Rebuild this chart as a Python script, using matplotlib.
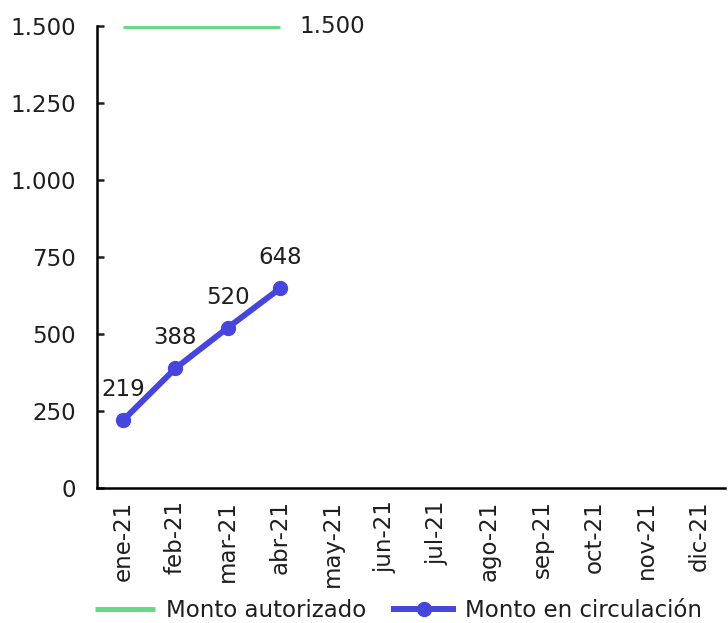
import matplotlib
matplotlib.use("Agg")
import matplotlib.pyplot as plt
from matplotlib.ticker import FuncFormatter

plt.rcParams.update({
    "font.family": "DejaVu Sans",
    "font.size": 16.5,
})

meses = ["ene-21", "feb-21", "mar-21", "abr-21", "may-21", "jun-21",
         "jul-21", "ago-21", "sep-21", "oct-21", "nov-21", "dic-21"]
autorizado = [1500, 1500, 1500, 1500]
circulacion = [219, 388, 520, 648]

VERDE = "#66DA84"
AZUL = "#4646DC"
TEXTO = "#1E1E1E"


def miles(v, pos=None):
    return f"{v:,.0f}".replace(",", ".")


fig = plt.figure(figsize=(7.28, 6.23), dpi=100)
ax = fig.add_axes([0.133, 0.217, 0.863, 0.741])

x_aut = list(range(len(autorizado)))
x_circ = list(range(len(circulacion)))

ax.plot(x_aut, autorizado, color=VERDE, lw=3.6, label="Monto autorizado",
        solid_capstyle="butt")
ax.plot(x_circ, circulacion, color=AZUL, lw=4.3, marker="o", ms=10,
        label="Monto en circulación")

ax.annotate(miles(autorizado[-1]), (x_aut[-1], autorizado[-1]),
            xytext=(14, 0), textcoords="offset points",
            ha="left", va="center", color=TEXTO)
for xi, v in zip(x_circ, circulacion):
    ax.annotate(miles(v), (xi, v), xytext=(0, 22), textcoords="offset points",
                ha="center", va="center", color=TEXTO)

ax.set_xlim(-0.5, len(meses) - 0.5)
ax.set_ylim(0, 1500)
ax.set_yticks([0, 250, 500, 750, 1000, 1250, 1500])
ax.yaxis.set_major_formatter(FuncFormatter(miles))
ax.set_xticks(range(len(meses)))
ax.set_xticklabels(meses, rotation=90)

for s in ["top", "right"]:
    ax.spines[s].set_visible(False)
for s in ["left", "bottom"]:
    ax.spines[s].set_linewidth(1.8)
ax.tick_params(axis="y", direction="in", length=5, width=1.8, pad=15,
               colors=TEXTO)
ax.tick_params(axis="x", length=0, pad=9, colors=TEXTO)

leg = ax.legend(loc="upper center", bbox_to_anchor=(0.48, -0.222), ncol=2,
                frameon=False, handlelength=2.6, columnspacing=1.2,
                handletextpad=0.5, borderaxespad=0)
for t in leg.get_texts():
    t.set_color(TEXTO)

fig.savefig("out.png", dpi=100)
